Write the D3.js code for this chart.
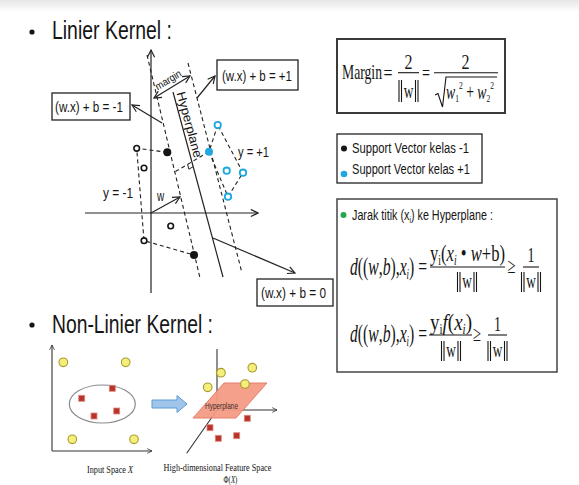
<!DOCTYPE html>
<html><head><meta charset="utf-8">
<script src="https://cdn.jsdelivr.net/npm/d3@7"></script>
<style>body{margin:0;background:#fff}svg{display:block}</style>
</head><body><svg id="c" width="579" height="485"></svg>
<script>
// ---------------- data ----------------
const titles = ["Linier Kernel :", "Non-Linier Kernel :"];
// linear kernel diagram (data units)
const negOpen = [[-1.43,6.47],[-0.7,4.5],[1.97,-1.3],[-0.7,-2.77]];
const negSupport = [[1.63,6.07],[4.3,-4.2]];
const posOpen = [[6.67,8.8],[7.57,4.23],[9.2,4.03],[7.7,1.63]];
const posSupport = [[5.8,6.13]];
const hyperplane = [[2.2,12.1],[7.2,-6.4]];
const marginNeg = [[-0.4,15.8],[4.9,-6.5]];
const marginPos = [[3.7,15.0],[9.1,-6.0]];
const negHull = [[1.63,6.07],[-1.43,6.47],[-0.7,-2.77],[4.3,-4.2]];
const posHull = [[6.67,8.8],[5.8,6.13],[7.7,1.63],[9.2,4.03],[6.67,8.8]];
const perpLine = [[5.8,6.13],[2.2,4.0]];
const wVector = [[0,0],[2.9,1.6]];
const marginArrow = [[0.3,11.5],[3.9,13.7]];
const xAxisExt = [-6.6,10.7];
const yAxisExt = [-8,16.3];
const eqLabels = ["(w.x) + b = -1","(w.x) + b = +1","(w.x) + b = 0"];
const eqPointers = [[[1.1,9.0],[-1.9,10.8]],[[4.6,11.5],[6.4,13.7]],[[6.2,-2.5],[14.4,-6.0]]];
const classLabels = ["y = -1","y = +1"];
const legendLabels = ["Support Vector kelas -1","Support Vector kelas +1"];
// input space
const inCircles = [[1.13,8.87],[7.37,8.87],[2.03,1.17],[8.2,1.17]];
const inSquares = [[2.97,5.27],[6.03,6.27],[6.47,4.0],[4.2,3.5]];
const inEllipse = [5.03,4.7,3.3,1.9];
// feature space
const ftCircles = [[0.4,3.73],[3.53,4.23],[-0.93,2.27],[2.8,2.6]];
const ftSquares = [[-0.7,-1.77],[3.03,-0.83],[0.13,-2.83],[1.97,-2.57]];
const ftPlane = [[-2.4,-0.8],[0.7,2.7],[5,2.7],[1.9,-0.8]];
const ftAxes = [[[0,0],[0,6.1]],[[0,0],[6,0]],[[0,0],[-3.03,-4.33]]];

// ---------------- setup ----------------
const svg = d3.select("#c");
const SANS = "Liberation Sans, Arial, sans-serif";
const SERIF = "Liberation Serif, Times New Roman, serif";
const INK = "#151515", CYAN = "#1fa8e0";

const defs = svg.append("defs");
function marker(id, size, color){
  defs.append("marker").attr("id",id).attr("viewBox","0 0 10 10").attr("refX",9).attr("refY",5)
    .attr("markerWidth",size).attr("markerHeight",size).attr("markerUnits","userSpaceOnUse")
    .attr("orient","auto-start-reverse")
    .append("path").attr("d","M1,1 L9,5 L1,9").attr("fill","none").attr("stroke",color).attr("stroke-width",1.3);
}
marker("arr", 9, "#222"); marker("arrS", 6, "#333");
const grad = defs.append("linearGradient").attr("id","topg").attr("x1",0).attr("y1",0).attr("x2",0).attr("y2",1);
grad.append("stop").attr("offset",0).attr("stop-color","#e6e6e6");
grad.append("stop").attr("offset",1).attr("stop-color","#ffffff");
svg.append("rect").attr("width",579).attr("height",12).attr("fill","url(#topg)");

function fit(sel, x, y, w, o, build){
  const g = sel.append("g");
  const t = g.append("text").attr("font-family", o.family || SANS).attr("font-size", o.size)
    .attr("fill", o.fill || INK).attr("text-anchor", o.anchor || "start");
  if (o.italic) t.attr("font-style","italic");
  if (typeof build === "string") t.text(build); else build(t);
  const bw = t.node().getBBox().width;
  g.attr("transform", `translate(${x},${y})${o.rotate ? ` rotate(${o.rotate})` : ""} scale(${w/bw},1)`);
  return g;
}
function ts(t, s, o={}){
  const sp = t.append("tspan").text(s);
  if (o.it) sp.attr("font-style","italic");
  if (o.dy) sp.attr("dy", o.dy);
  if (o.size) sp.attr("font-size", o.size);
  return sp;
}

// titles
[[titles[0],39,120,32],[titles[1],333,161,325]].forEach(([s,by,w,cy])=>{
  svg.append("circle").attr("cx",32).attr("cy",cy).attr("r",2.6).attr("fill",INK);
  fit(svg, 52, by, w, {size:25}, s);
});

// ---------------- linear kernel diagram ----------------
const x = d3.scaleLinear().domain([0,10]).range([151,251]);
const y = d3.scaleLinear().domain([0,10]).range([213,113]);
const line = d3.line().x(d=>x(d[0])).y(d=>y(d[1]));
const L = svg.append("g");

// axes
L.append("path").attr("d", line([[xAxisExt[0],0],[xAxisExt[1],0]])).attr("stroke","#222").attr("stroke-width",1.2).attr("fill","none").attr("marker-end","url(#arr)");
L.append("path").attr("d", line([[0,yAxisExt[0]],[0,yAxisExt[1]]])).attr("stroke","#222").attr("stroke-width",1.2).attr("fill","none").attr("marker-end","url(#arr)");

// margins / hyperplane
const dashed = (d)=>L.append("path").attr("d", line(d)).attr("fill","none").attr("stroke","#222").attr("stroke-width",1.1).attr("stroke-dasharray","4,3");
dashed(marginNeg); dashed(marginPos); dashed(negHull); dashed(posHull); dashed(perpLine);
L.append("path").attr("d", line(hyperplane)).attr("stroke","#222").attr("stroke-width",1.2).attr("fill","none");

// right angle mark at perp / hyperplane crossing
(function(){
  const p1=[x(perpLine[0][0]),y(perpLine[0][1])], p2=[x(perpLine[1][0]),y(perpLine[1][1])];
  const h1=[x(hyperplane[0][0]),y(hyperplane[0][1])], h2=[x(hyperplane[1][0]),y(hyperplane[1][1])];
  const d1=[p2[0]-p1[0],p2[1]-p1[1]], d2=[h2[0]-h1[0],h2[1]-h1[1]];
  const den = d1[0]*d2[1]-d1[1]*d2[0];
  const t = ((h1[0]-p1[0])*d2[1]-(h1[1]-p1[1])*d2[0])/den;
  const P=[p1[0]+t*d1[0], p1[1]+t*d1[1]];
  const n1=Math.hypot(...d1), n2=Math.hypot(...d2);
  const u=[d1[0]/n1*5,d1[1]/n1*5], v=[d2[0]/n2*5,d2[1]/n2*5];
  L.append("path").attr("d",`M${P[0]+u[0]},${P[1]+u[1]} L${P[0]+u[0]+v[0]},${P[1]+u[1]+v[1]} L${P[0]+v[0]},${P[1]+v[1]}`)
    .attr("fill","none").attr("stroke","#222").attr("stroke-width",1);
})();

// w vector & margin arrow
L.append("path").attr("d", line(wVector)).attr("stroke","#222").attr("stroke-width",1.2).attr("fill","none").attr("marker-end","url(#arr)");
L.append("path").attr("d", line(marginArrow)).attr("stroke","#222").attr("stroke-width",1.2).attr("fill","none").attr("marker-end","url(#arr)").attr("marker-start","url(#arr)");

// pointers to labels
eqPointers.forEach(d=>L.append("path").attr("d", line(d)).attr("stroke","#222").attr("stroke-width",1.2).attr("fill","none").attr("marker-end","url(#arr)"));

// points
L.selectAll(".no").data(negOpen).join("circle").attr("cx",d=>x(d[0])).attr("cy",d=>y(d[1])).attr("r",2.8).attr("fill","#fff").attr("stroke",INK).attr("stroke-width",1.6);
L.selectAll(".ns").data(negSupport).join("circle").attr("cx",d=>x(d[0])).attr("cy",d=>y(d[1])).attr("r",4).attr("fill",INK);
L.selectAll(".po").data(posOpen).join("circle").attr("cx",d=>x(d[0])).attr("cy",d=>y(d[1])).attr("r",3.2).attr("fill","#fff").attr("stroke",CYAN).attr("stroke-width",1.8);
L.selectAll(".ps").data(posSupport).join("circle").attr("cx",d=>x(d[0])).attr("cy",d=>y(d[1])).attr("r",4).attr("fill",CYAN);

// label boxes
[[52,93,78,27,55,112,68],[217,60,81,30,222,81,70],[257,279,76,27,261,298,65]].forEach((b,i)=>{
  L.append("rect").attr("x",b[0]).attr("y",b[1]).attr("width",b[2]).attr("height",b[3]).attr("fill","#fff").attr("stroke","#222").attr("stroke-width",1.3);
  fit(L, b[4], b[5], b[6], {size:15}, eqLabels[i]);
});
fit(L, 103, 198, 30, {size:15}, classLabels[0]);
fit(L, 238, 157, 31, {size:15}, classLabels[1]);
fit(L, 157, 201, 8, {size:15}, "w");
fit(L, 176.5, 93, 68, {size:12.5, rotate:74.9}, "Hyperplane");
fit(L, 170, 83, 29, {size:10.5, anchor:"middle", rotate:-31}, "margin");

// ---------------- right side formulas ----------------
const R = svg.append("g");
function normW(cx, top, bot, size){
  fit(R, cx, bot-4, 10, {family:SERIF, size:size||20, anchor:"middle"}, "w");
  [-9.5,-7,7,9.5].forEach(dx=>R.append("line").attr("x1",cx+dx).attr("x2",cx+dx).attr("y1",top).attr("y2",bot).attr("stroke",INK).attr("stroke-width",1.1));
}
function hline(x1,x2,yy){ R.append("line").attr("x1",x1).attr("x2",x2).attr("y1",yy).attr("y2",yy).attr("stroke",INK).attr("stroke-width",1.1); }

// Margin box
R.append("rect").attr("x",337).attr("y",39).attr("width",168).attr("height",74).attr("fill","#fff").attr("stroke","#3a3a3a").attr("stroke-width",2);
fit(R, 342, 79, 40, {family:SERIF, size:22}, "Margin");
fit(R, 388, 80, 9, {family:SERIF, size:20, anchor:"middle"}, "=");
fit(R, 408.5, 69, 8, {family:SERIF, size:20, anchor:"middle"}, "2");
hline(398,419,72.7);
normW(408.5, 80, 102);
fit(R, 426, 80, 8, {family:SERIF, size:20, anchor:"middle"}, "=");
fit(R, 465.5, 69, 8, {family:SERIF, size:20, anchor:"middle"}, "2");
hline(434,498,72.7);
R.append("path").attr("d","M435,95 L438,93.5 L442.5,107 L446,77 L497,77").attr("fill","none").attr("stroke",INK).attr("stroke-width",1.1);
fit(R, 446, 99, 48, {family:SERIF, size:20}, t=>{
  ts(t,"w",{it:true}); ts(t,"1",{dy:3,size:11}); ts(t,"2",{dy:-13,size:11}); ts(t," + ",{dy:10});
  ts(t,"w",{it:true}); ts(t,"2",{dy:3,size:11}); ts(t,"2",{dy:-13,size:11});
});

// legend box
R.append("rect").attr("x",337).attr("y",134).attr("width",145).attr("height",49).attr("fill","#fff").attr("stroke","#222").attr("stroke-width",1.3);
R.append("circle").attr("cx",344).attr("cy",148.5).attr("r",3).attr("fill",INK);
R.append("circle").attr("cx",344).attr("cy",174).attr("r",3.3).attr("fill",CYAN);
fit(R, 352, 153, 117, {size:14.5}, legendLabels[0]);
fit(R, 352, 173.5, 118, {size:14.5}, legendLabels[1]);

// Jarak box
R.append("rect").attr("x",337).attr("y",199).attr("width",220).attr("height",173).attr("fill","#fff").attr("stroke","#444").attr("stroke-width",1.5);
R.append("circle").attr("cx",343.5).attr("cy",215).attr("r",3).attr("fill","#22a84a");
fit(R, 352, 220, 141, {size:14.5}, t=>{ ts(t,"Jarak titik (x"); ts(t,"i",{dy:3,size:9}); ts(t,") ke Hyperplane :",{dy:-3}); });

function dLeft(baseline){
  fit(R, 350, baseline, 77, {family:SERIF, size:25}, t=>{
    ts(t,"d",{it:true}); ts(t,"(("); ts(t,"w",{it:true}); ts(t,","); ts(t,"b",{it:true}); ts(t,"),");
    ts(t,"x",{it:true}); ts(t,"i",{it:true,dy:4,size:14}); ts(t,")",{dy:-4}); ts(t," =");
  });
}
// formula 1
dLeft(275);
fit(R, 430, 261, 75, {family:SERIF, size:24}, t=>{
  ts(t,"y"); ts(t,"i",{dy:4,size:14}); ts(t,"(",{dy:-4}); ts(t,"x",{it:true}); ts(t,"i",{it:true,dy:4,size:14});
  ts(t," \u2022 ",{dy:-4}); ts(t,"w",{it:true}); ts(t,"+b)");
});
hline(430,505,267);
normW(467, 272, 292);
fit(R, 511.5, 273, 8, {family:SERIF, size:22, anchor:"middle"}, "\u2265");
fit(R, 531, 262, 7, {family:SERIF, size:22, anchor:"middle"}, "1");
hline(523,539,267);
normW(531, 272, 292);

// formula 2
dLeft(342);
fit(R, 430, 330, 42, {family:SERIF, size:24}, t=>{
  ts(t,"y"); ts(t,"i",{dy:4,size:14}); ts(t,"f",{dy:-4,it:true}); ts(t,"("); ts(t,"x",{it:true});
  ts(t,"i",{it:true,dy:4,size:14}); ts(t,")",{dy:-4});
});
hline(429,472,335);
normW(451, 341, 361);
fit(R, 477, 341, 8, {family:SERIF, size:22, anchor:"middle"}, "\u2265");
fit(R, 497.5, 331, 7, {family:SERIF, size:22, anchor:"middle"}, "1");
hline(488,507,335);
normW(497.5, 341, 361);

// ---------------- non-linear kernel ----------------
const N = svg.append("g");
const xi = d3.scaleLinear().domain([0,10]).range([52,152]);
const yi = d3.scaleLinear().domain([0,10]).range([451,351]);
N.append("path").attr("d",`M${xi(0)},${yi(0)} L${xi(0)},${yi(10.6)}`).attr("stroke","#333").attr("stroke-width",1.1).attr("marker-end","url(#arrS)");
N.append("path").attr("d",`M${xi(0)},${yi(0)} L${xi(10)},${yi(0)}`).attr("stroke","#333").attr("stroke-width",1.1).attr("marker-end","url(#arrS)");
N.append("ellipse").attr("cx",xi(inEllipse[0])).attr("cy",yi(inEllipse[1]))
  .attr("rx",xi(inEllipse[2])-xi(0)).attr("ry",yi(0)-yi(inEllipse[3])).attr("fill","none").attr("stroke","#8a8a8a").attr("stroke-width",1.2);
const yellow = (g, data, sx, sy)=>g.selectAll(null).data(data).join("circle").attr("cx",d=>sx(d[0])).attr("cy",d=>sy(d[1])).attr("r",4.3).attr("fill","#f4ef7c").attr("stroke","#a99a2a").attr("stroke-width",1.1);
const red = (g, data, sx, sy)=>g.selectAll(null).data(data).join("rect").attr("x",d=>sx(d[0])-3).attr("y",d=>sy(d[1])-3).attr("width",6).attr("height",6).attr("fill","#b8332a").attr("stroke","#e08a80").attr("stroke-width",0.8);
yellow(N, inCircles, xi, yi);
red(N, inSquares, xi, yi);
fit(N, 110, 473, 47, {family:SERIF, size:11, anchor:"middle"}, t=>{ ts(t,"Input Space "); ts(t,"X",{it:true}); });

// blue arrow
(function(){
  const x0=xi(10.0), x1=xi(13.5), xh=xi(12.5), c=yi(4.7);
  N.append("path").attr("d",`M${x0},${c-4} L${xh},${c-4} L${xh},${c-8.5} L${x1},${c} L${xh},${c+8.5} L${xh},${c+4} L${x0},${c+4} Z`)
    .attr("fill","#9fc6ea").attr("stroke","#5b9bd5").attr("stroke-width",1);
})();

// feature space
const xf = d3.scaleLinear().domain([0,10]).range([217,317]);
const yf = d3.scaleLinear().domain([0,10]).range([410,310]);
const lf = d3.line().x(d=>xf(d[0])).y(d=>yf(d[1]));
ftAxes.forEach((a,i)=>N.append("path").attr("d",lf(a)).attr("stroke","#333").attr("stroke-width",1.1).attr("fill","none").attr("marker-end", i===1?"url(#arrS)":null));
N.append("path").attr("d", lf(ftPlane)+"Z").attr("fill","#f59b85").attr("stroke","#e07a66").attr("stroke-width",1).attr("opacity",0.95);
fit(N, 221.5, 409, 33, {size:9, anchor:"middle", fill:"#3a2a2a"}, "Hyperplane");
red(N, ftSquares, xf, yf);
yellow(N, ftCircles, xf, yf);
fit(N, 217.5, 471, 108, {family:SERIF, size:11, anchor:"middle"}, "High-dimensional Feature Space");
fit(N, 230.5, 483, 14, {family:SERIF, size:11, anchor:"middle"}, t=>{ ts(t,"\u03A6("); ts(t,"X",{it:true}); ts(t,")"); });
</script></body></html>
